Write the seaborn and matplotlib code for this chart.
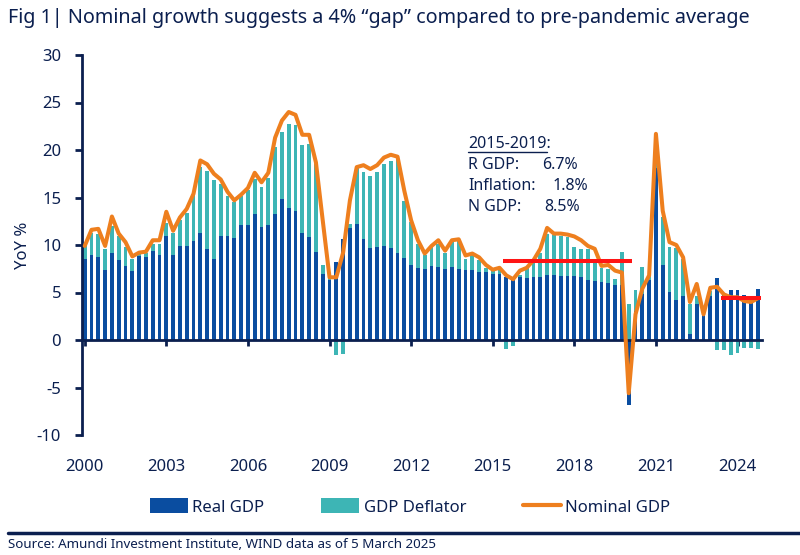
import numpy as np
import pandas as pd
import matplotlib
matplotlib.use("Agg")
import matplotlib.pyplot as plt
import matplotlib.transforms as mtransforms
from matplotlib.patches import Patch
from matplotlib.lines import Line2D
import seaborn as sns

# ---------------- data ----------------
years = list(range(2000, 2025))
quarters = [f"{y}Q{q}" for y in years for q in range(1, 5)]

real_gdp = [
    8.5, 9.0, 8.7, 7.4,      # 2000
    9.2, 8.4, 7.8, 7.3,      # 2001
    8.8, 8.7, 9.4, 9.0,      # 2002
    11.0, 9.0, 9.9, 9.9,     # 2003
    10.4, 11.3, 9.6, 8.5,    # 2004
    11.0, 10.9, 10.7, 12.1,  # 2005
    12.1, 13.3, 11.9, 12.1,  # 2006
    13.3, 14.8, 13.9, 13.6,  # 2007
    11.3, 10.8, 9.3, 6.9,    # 2008
    6.3, 8.2, 10.6, 11.8,    # 2009
    12.2, 10.6, 9.7, 9.8,    # 2010
    9.9, 9.7, 9.2, 8.6,      # 2011
    7.9, 7.6, 7.5, 7.8,      # 2012
    7.7, 7.5, 7.7, 7.5,      # 2013
    7.4, 7.4, 7.2, 7.2,      # 2014
    7.0, 6.9, 6.6, 6.5,      # 2015
    6.6, 6.5, 6.6, 6.6,      # 2016
    6.8, 6.8, 6.7, 6.7,      # 2017
    6.7, 6.6, 6.3, 6.2,      # 2018
    6.1, 6.0, 5.8, 5.8,      # 2019
    -6.8, 3.1, 4.8, 6.3,     # 2020
    18.1, 7.9, 5.1, 4.2,     # 2021
    4.6, 0.6, 3.8, 2.7,      # 2022
    4.6, 6.5, 4.9, 5.3,      # 2023
    5.3, 4.7, 4.6, 5.4,      # 2024
]

gdp_deflator = [
    1.6, 2.3, 2.5, 2.2,
    2.8, 2.5, 2.0, 1.2,
    0.2, 0.5, 0.7, 1.1,
    1.3, 2.3, 2.7, 3.5,
    4.9, 6.9, 8.2, 8.3,
    5.4, 4.3, 3.8, 3.1,
    3.7, 3.6, 4.2, 5.0,
    7.0, 7.1, 8.8, 9.0,
    9.2, 9.8, 9.2, 1.0,
    0.3, -1.6, -1.5, 0.4,
    6.0, 7.1, 7.6, 7.9,
    8.6, 9.1, 9.9, 6.0,
    4.5, 2.5, 1.4, 2.0,
    2.4, 1.7, 2.6, 3.0,
    1.1, 1.5, 1.2, 0.4,
    0.3, 0.6, -0.9, -0.6,
    0.2, 1.1, 1.6, 2.6,
    4.4, 4.2, 4.3, 4.1,
    3.1, 3.0, 3.3, 2.0,
    1.5, 1.5, 0.6, 3.5,
    3.8, 2.2, 2.9, 0.5,
    3.0, 5.0, 4.7, 5.5,
    3.9, 3.2, 0.8, 0.2,
    0.6, -1.1, -1.1, -1.6,
    -1.4, -0.8, -0.8, -0.9,
]

nominal_gdp = [
    9.9, 11.6, 11.7, 9.9,
    13.0, 11.2, 10.3, 8.8,
    9.2, 9.3, 10.5, 10.5,
    13.5, 11.5, 12.9, 13.8,
    15.4, 18.9, 18.5, 17.5,
    16.9, 15.6, 14.7, 15.3,
    16.0, 17.6, 16.6, 17.6,
    21.3, 23.1, 24.0, 23.7,
    21.6, 21.6, 18.7, 12.6,
    6.6, 6.6, 9.2, 14.7,
    18.2, 18.4, 18.0, 18.4,
    19.2, 19.5, 19.3, 15.7,
    12.6, 10.5, 9.1, 9.9,
    10.5, 9.4, 10.5, 10.6,
    8.9, 9.1, 8.7, 7.9,
    7.4, 7.6, 6.8, 6.4,
    7.3, 7.6, 8.4, 9.6,
    11.8, 11.2, 11.2, 11.1,
    10.9, 10.5, 9.9, 9.6,
    7.8, 7.9, 7.3, 7.1,
    -5.6, 2.7, 5.4, 6.8,
    21.7, 13.6, 10.3, 10.0,
    8.7, 4.0, 5.9, 2.7,
    5.5, 5.6, 4.8, 4.5,
    4.5, 4.1, 4.0, 4.4,
]

tick_years = ["2000", "2003", "2006", "2009", "2012", "2015", "2018", "2021", "2024"]
y_ticks = [-10, -5, 0, 5, 10, 15, 20, 25, 30]

# average reference lines: (first quarter, last quarter, average)
avg_lines = [("2015Q3", "2020Q1", 8.3), ("2023Q3", "2024Q4", 4.4)]

title = "Fig 1| Nominal growth suggests a 4% \u201cgap\u201d compared to pre-pandemic average"
source = "Source: Amundi Investment Institute, WIND data as of 5 March 2025"
box_title = "2015-2019:"
box_labels = ["R GDP:", "Inflation:", "N GDP:"]
box_values = ["6.7%", "1.8%", "8.5%"]
legend_labels = ["Real GDP", "GDP Deflator", "Nominal GDP"]

# ---------------- style ----------------
NAVY = "#0B1F4F"
BLUE = "#0A4DA0"
TEAL = "#3DB5B5"
ORANGE = "#EE7F1E"
RED = "#FF1414"

sns.set_theme(style="white")
plt.rcParams["font.family"] = ["Noto Sans", "DejaVu Sans"]
plt.rcParams["axes.unicode_minus"] = False
plt.rcParams["text.color"] = NAVY

W, H = 800, 555
fig, ax = plt.subplots(figsize=(W / 100, H / 100), dpi=100)
fig.subplots_adjust(left=82 / W, right=762 / W, bottom=1 - 435 / H, top=1 - 55 / H)

def fx(px):
    return px / W

def fy(py):
    return 1 - py / H

n = len(quarters)
df = pd.DataFrame({
    "quarter": quarters,
    "pos": np.arange(n),
    "real": real_gdp,
    "defl": gdp_deflator,
    "nom": nominal_gdp,
})
defl_bottom = np.where((df["defl"] > 0) & (df["real"] > 0), df["real"], 0.0)

sns.barplot(data=df, x="pos", y="real", native_scale=True, orient="x", width=0.55,
            color=BLUE, saturation=1, errorbar=None, ax=ax, linewidth=0, zorder=2)
sns.barplot(data=df, x="pos", y="defl", native_scale=True, orient="x", width=0.55,
            color=TEAL, saturation=1, errorbar=None, ax=ax, linewidth=0, zorder=2,
            bottom=defl_bottom)
sns.lineplot(data=df, x="pos", y="nom", color=ORANGE, linewidth=2.9, ax=ax, zorder=4)

qindex = {q: i for i, q in enumerate(quarters)}
for q0, q1, val in avg_lines:
    ax.plot([qindex[q0] - 0.45, qindex[q1] + 0.45], [val, val], color=RED,
            linewidth=2.9, solid_capstyle="butt", zorder=5)

ax.set_xlim(-0.4, n - 0.4)
ax.set_ylim(-10, 30)
ax.set_xlabel("")
ax.set_ylabel("")

for s in ["top", "right"]:
    ax.spines[s].set_visible(False)
ax.spines["left"].set_color(NAVY)
ax.spines["left"].set_linewidth(2)
ax.spines["bottom"].set_position(("data", 0))
ax.spines["bottom"].set_color(NAVY)
ax.spines["bottom"].set_linewidth(2)
ax.spines["bottom"].set_zorder(3)

ax.set_yticks(y_ticks)
ax.set_yticklabels([str(v) for v in y_ticks])
ax.tick_params(axis="y", length=5, width=2, color=NAVY, labelcolor=NAVY,
               labelsize=12, pad=10, left=True)
tick_pos = [qindex[f"{y}Q1"] for y in tick_years]
ax.set_xticks(tick_pos)
ax.set_xticklabels([])
ax.tick_params(axis="x", length=4, width=2, color=NAVY, direction="out", bottom=True)

trans = mtransforms.blended_transform_factory(ax.transData, ax.transAxes)
for p, lab in zip(tick_pos, tick_years):
    ax.text(p, -0.084, lab, transform=trans, ha="center", va="center",
            fontsize=12, color=NAVY)

fig.text(fx(23), fy(245), "YoY %", rotation=90, ha="center", va="center",
         fontsize=12, color=NAVY)

# annotation box
fig.text(fx(468), fy(144), box_title, ha="left", va="center", fontsize=11.5, color=NAVY)
fig.add_artist(Line2D([fx(468), fx(547)], [fy(152), fy(152)], color=NAVY, linewidth=1))
val_x = [542, 553, 544]
for k, (lab, val) in enumerate(zip(box_labels, box_values)):
    yy = fy(165 + 21 * k)
    fig.text(fx(468), yy, lab, ha="left", va="center", fontsize=11.5, color=NAVY)
    fig.text(fx(val_x[k]), yy, val, ha="left", va="center", fontsize=11.5, color=NAVY)

# title and source
t_title = fig.text(fx(8), fy(18), title, ha="left", va="center", fontsize=13.5, color=NAVY)
t_src = fig.text(fx(8), fy(545), source, ha="left", va="center", fontsize=10.5, color=NAVY)
fig.add_artist(Line2D([fx(8), 1.0], [fy(533), fy(533)], color=NAVY, linewidth=2.5))

renderer = fig.canvas.get_renderer()
for t, target in [(t_title, 744), (t_src, 428)]:
    w = t.get_window_extent(renderer=renderer).width
    t.set_fontsize(t.get_fontsize() * target / w)

handles = [Patch(facecolor=BLUE, edgecolor="none"),
           Patch(facecolor=TEAL, edgecolor="none"),
           Line2D([], [], color=ORANGE, linewidth=3)]
fig.legend(handles, legend_labels, loc="center", bbox_to_anchor=(fx(410), fy(507)),
           ncol=3, frameon=False, fontsize=12, handlelength=2.3, handleheight=1.0,
           handletextpad=0.25, columnspacing=3.4, labelcolor=NAVY)

fig.savefig("out.png", dpi=100)
